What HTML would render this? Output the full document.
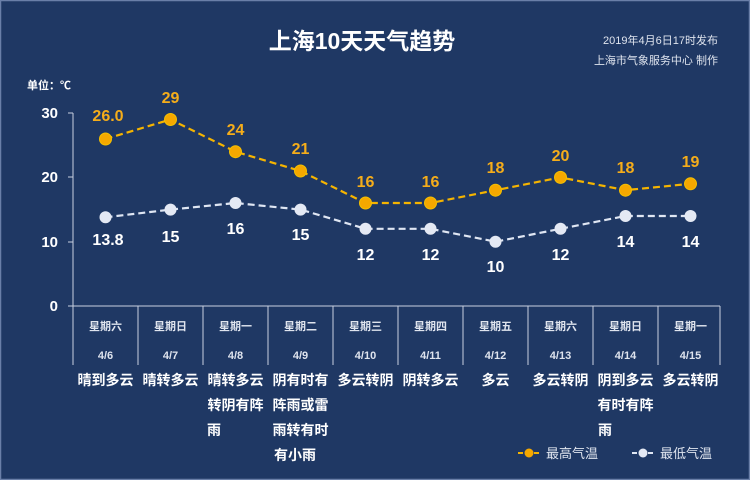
<!DOCTYPE html><html><head><meta charset="utf-8"><style>body{margin:0;background:#1f3864}svg{display:block}</style></head><body>
<svg width="750" height="480" xmlns="http://www.w3.org/2000/svg" font-family="Liberation Sans, Noto Sans CJK SC, sans-serif">
<rect x="0" y="0" width="750" height="480" fill="#1f3864"/>
<rect x="0.5" y="0.5" width="749" height="479" fill="none" stroke="#6a7fa8" stroke-width="1.5"/>
<text x="362" y="49" fill="#fff" font-size="23" font-weight="bold" text-anchor="middle">上海10天天气趋势</text>
<text x="718" y="44" fill="#dfe4ee" font-size="11" text-anchor="end">2019年4月6日17时发布</text>
<text x="718" y="64" fill="#dfe4ee" font-size="11" text-anchor="end">上海市气象服务中心  制作</text>
<text x="27" y="89" fill="#fff" font-size="11" font-weight="bold">单位：℃</text>
<g fill="#fff" font-size="15" font-weight="bold" text-anchor="end">
<text x="58" y="118">30</text><text x="58" y="182">20</text><text x="58" y="247">10</text><text x="58" y="311">0</text></g>
<g stroke="#c8d0e0" stroke-width="1">
<line x1="73" y1="113" x2="73" y2="306"/>
<line x1="68" y1="113" x2="73" y2="113"/><line x1="68" y1="177" x2="73" y2="177"/><line x1="68" y1="242" x2="73" y2="242"/>
<line x1="68" y1="306" x2="720" y2="306"/>
<line x1="73" y1="306" x2="73" y2="365"/><line x1="138" y1="306" x2="138" y2="365"/><line x1="203" y1="306" x2="203" y2="365"/><line x1="268" y1="306" x2="268" y2="365"/><line x1="333" y1="306" x2="333" y2="365"/><line x1="398" y1="306" x2="398" y2="365"/><line x1="463" y1="306" x2="463" y2="365"/><line x1="528" y1="306" x2="528" y2="365"/><line x1="593" y1="306" x2="593" y2="365"/><line x1="658" y1="306" x2="658" y2="365"/><line x1="720" y1="306" x2="720" y2="365"/>
</g>
<g fill="#dfe4ee" font-size="11" font-weight="bold" text-anchor="middle">
<text x="105.5" y="330">星期六</text><text x="170.5" y="330">星期日</text><text x="235.5" y="330">星期一</text><text x="300.5" y="330">星期二</text><text x="365.5" y="330">星期三</text><text x="430.5" y="330">星期四</text><text x="495.5" y="330">星期五</text><text x="560.5" y="330">星期六</text><text x="625.5" y="330">星期日</text><text x="690.5" y="330">星期一</text>
<text x="105.5" y="359">4/6</text><text x="170.5" y="359">4/7</text><text x="235.5" y="359">4/8</text><text x="300.5" y="359">4/9</text><text x="365.5" y="359">4/10</text><text x="430.5" y="359">4/11</text><text x="495.5" y="359">4/12</text><text x="560.5" y="359">4/13</text><text x="625.5" y="359">4/14</text><text x="690.5" y="359">4/15</text></g>
<g fill="#fff" font-size="14" font-weight="bold" text-anchor="middle">
<text x="105.5" y="385">晴到多云</text><text x="170.5" y="385">晴转多云</text>
<text x="235.5" y="385">晴转多云</text><text x="235.5" y="410">转阴有阵</text><text x="207" y="435" text-anchor="start">雨</text>
<text x="300.5" y="385">阴有时有</text><text x="300.5" y="410">阵雨或雷</text><text x="300.5" y="435">雨转有时</text><text x="274" y="460" text-anchor="start">有小雨</text>
<text x="365.5" y="385">多云转阴</text><text x="430.5" y="385">阴转多云</text><text x="495.5" y="385">多云</text><text x="560.5" y="385">多云转阴</text>
<text x="625.5" y="385">阴到多云</text><text x="625.5" y="410">有时有阵</text><text x="598" y="435" text-anchor="start">雨</text>
<text x="690.5" y="385">多云转阴</text></g>
<polyline fill="none" stroke="#f5b400" stroke-width="2.2" stroke-dasharray="7,4" points="105.5,139 170.5,119.5 235.5,151.7 300.5,171 365.5,203 430.5,203 495.5,190.2 560.5,177.4 625.5,190.2 690.5,183.8"/>
<polyline fill="none" stroke="#dfe6f3" stroke-width="2.2" stroke-dasharray="7,4" points="105.5,217.3 170.5,209.6 235.5,203 300.5,209.6 365.5,228.8 430.5,228.8 495.5,241.7 560.5,228.8 625.5,216 690.5,216"/>
<g fill="#f5a800" stroke="#f5c000" stroke-width="1">
<circle cx="105.5" cy="139" r="6"/><circle cx="170.5" cy="119.5" r="6"/><circle cx="235.5" cy="151.7" r="6"/><circle cx="300.5" cy="171" r="6"/><circle cx="365.5" cy="203" r="6"/><circle cx="430.5" cy="203" r="6"/><circle cx="495.5" cy="190.2" r="6"/><circle cx="560.5" cy="177.4" r="6"/><circle cx="625.5" cy="190.2" r="6"/><circle cx="690.5" cy="183.8" r="6"/></g>
<g fill="#e4e9f4">
<circle cx="105.5" cy="217.3" r="6"/><circle cx="170.5" cy="209.6" r="6"/><circle cx="235.5" cy="203" r="6"/><circle cx="300.5" cy="209.6" r="6"/><circle cx="365.5" cy="228.8" r="6"/><circle cx="430.5" cy="228.8" r="6"/><circle cx="495.5" cy="241.7" r="6"/><circle cx="560.5" cy="228.8" r="6"/><circle cx="625.5" cy="216" r="6"/><circle cx="690.5" cy="216" r="6"/></g>
<g fill="#f5ad1a" font-size="16" font-weight="bold" text-anchor="middle">
<text x="108" y="121">26.0</text><text x="170.5" y="103">29</text><text x="235.5" y="135">24</text><text x="300.5" y="154">21</text><text x="365.5" y="187">16</text><text x="430.5" y="187">16</text><text x="495.5" y="173">18</text><text x="560.5" y="161">20</text><text x="625.5" y="173">18</text><text x="690.5" y="167">19</text></g>
<g fill="#fff" font-size="16" font-weight="bold" text-anchor="middle">
<text x="108" y="245">13.8</text><text x="170.5" y="242">15</text><text x="235.5" y="234">16</text><text x="300.5" y="240">15</text><text x="365.5" y="260">12</text><text x="430.5" y="260">12</text><text x="495.5" y="272">10</text><text x="560.5" y="260">12</text><text x="625.5" y="247">14</text><text x="690.5" y="247">14</text></g>
<line x1="518" y1="453" x2="540" y2="453" stroke="#f5b400" stroke-width="2" stroke-dasharray="5,3"/><circle cx="529" cy="453" r="4.5" fill="#f5a800"/>
<text x="546" y="458" fill="#dfe4ee" font-size="13">最高气温</text>
<line x1="632" y1="453" x2="654" y2="453" stroke="#dfe6f3" stroke-width="2" stroke-dasharray="5,3"/><circle cx="643" cy="453" r="4.5" fill="#e4e9f4"/>
<text x="660" y="458" fill="#dfe4ee" font-size="13">最低气温</text>
</svg></body></html>
